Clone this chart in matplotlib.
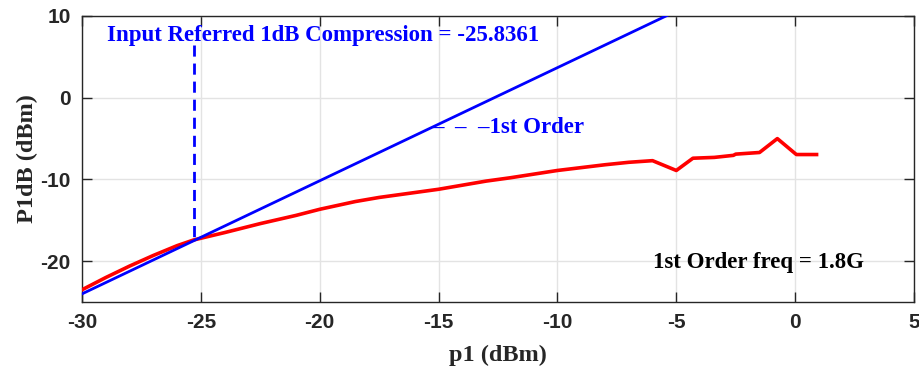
import numpy as np
import matplotlib.pyplot as plt

plt.rcParams['axes.unicode_minus'] = False

# measured output power vs input power (dBm)
p1 = [-30, -29, -28, -27, -26, -25.3, -24, -22.5, -21, -20, -18.5, -17.5, -16, -15,
      -13, -12, -10, -8, -7, -6, -5, -4.3, -3.4, -2.6, -2.5, -1.5, -0.75, 0.05, 0.9]
p1db = [-23.5, -22.0, -20.6, -19.3, -18.1, -17.4, -16.5, -15.4, -14.4, -13.65, -12.7, -12.2,
        -11.6, -11.2, -10.2, -9.8, -8.9, -8.2, -7.9, -7.7, -8.9, -7.4, -7.3, -7.05, -6.9,
        -6.7, -5.0, -6.95, -6.95]

# linear (1st order) extrapolation
lin_x = [-30, -5]
lin_y = [-24.0, 10.6]

# crossing of the two curves
cross_x = -25.3
cross_y = [6.4, -17.4]

xticks = [-30, -25, -20, -15, -10, -5, 0, 5]
yticks = [-20, -10, 0, 10]

fig = plt.figure(figsize=(9.19, 3.72), dpi=100)
ax = fig.add_axes([0.0892, 0.188, 0.9054, 0.769])

ax.plot(p1, p1db, color=(1, 0, 0), lw=2.6, zorder=3)
ax.plot(lin_x, lin_y, color=(0, 0, 1), lw=2.0, zorder=4)
ax.plot([cross_x, cross_x], cross_y, color=(0, 0, 1), lw=2.0, ls=(0, (4, 2.5)), zorder=4)

ax.set_xlim(-30, 5)
ax.set_ylim(-25, 10)
ax.set_xticks(xticks)
ax.set_yticks(yticks)
ax.grid(True, color='#e3e3e3', lw=1)
ax.set_axisbelow(True)
ax.tick_params(direction='in', length=7, width=1, top=True, right=True, color='#262626',
               labelsize=15, pad=8)
for lab in ax.get_xticklabels() + ax.get_yticklabels():
    lab.set_family('Liberation Sans')
    lab.set_fontweight('bold')
    lab.set_color('#262626')
for s in ax.spines.values():
    s.set_color('#262626')
    s.set_linewidth(1)

serif = dict(family='Liberation Serif', fontweight='bold')
ax.set_xlabel('p1 (dBm)', fontsize=17.5, labelpad=9, color='#262626', **serif)
ax.set_ylabel('P1dB (dBm)', fontsize=17.5, labelpad=2, color='#262626', **serif)

ax.text(-28.95, 7.6, 'Input Referred 1dB Compression = -25.8361', color=(0, 0, 1),
        fontsize=16.5, va='center', ha='left', **serif)
ax.text(-15.28, -3.66, '\u2013\u2002\u2013\u2002\u20131st Order', color=(0, 0, 1),
        fontsize=16.5, va='center', ha='left', **serif)
ax.text(-5.98, -20.1, '1st Order freq = 1.8G', color='black',
        fontsize=16.5, va='center', ha='left', **serif)

fig.savefig('out.png', dpi=100)
